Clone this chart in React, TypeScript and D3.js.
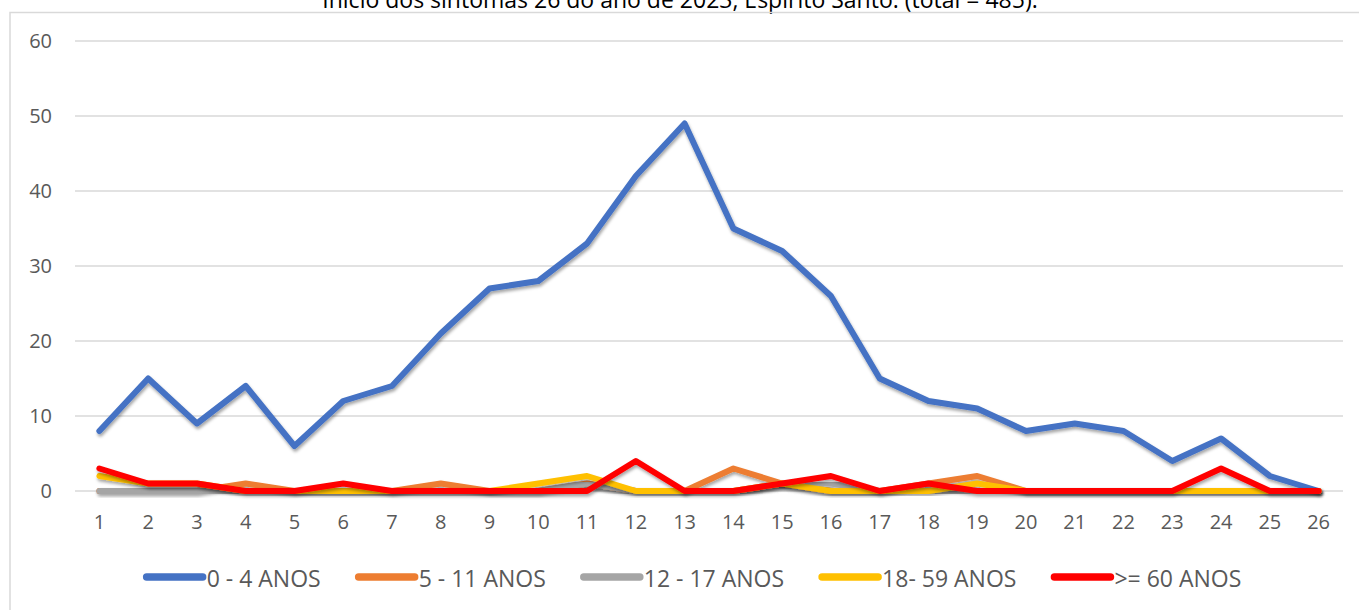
import React, { useEffect, useRef } from "react";
import * as d3 from "d3";

const weeks = ["1","2","3","4","5","6","7","8","9","10","11","12","13","14","15","16","17","18","19","20","21","22","23","24","25","26"];
const yTicks = [0, 10, 20, 30, 40, 50, 60];

const age0to4 = [8,15,9,14,6,12,14,21,27,28,33,42,49,35,32,26,15,12,11,8,9,8,4,7,2,0];
const age5to11 = [0,0,0,1,0,0,0,1,0,0,1,0,0,3,1,0,0,1,2,0,0,0,0,0,0,0];
const age12to17 = [0,0,0,0,0,0,0,0,0,0,1,0,0,0,1,1,0,0,0,0,0,0,0,0,0,0];
const age18to59 = [2,1,1,0,0,0,0,0,0,1,2,0,0,0,1,0,0,0,1,0,0,0,0,0,0,0];
const age60plus = [3,1,1,0,0,1,0,0,0,0,0,4,0,0,1,2,0,1,0,0,0,0,0,3,0,0];

const seriesNames = ["0 - 4 ANOS", "5 - 11 ANOS", "12 - 17 ANOS", "18- 59 ANOS", ">= 60 ANOS"];
const seriesColors = ["#4472C4", "#ED7D31", "#A5A5A5", "#FFC000", "#FF0000"];
const seriesValues = [age0to4, age5to11, age12to17, age18to59, age60plus];

const title = "Início dos sintomas 26 do ano de 2023, Espírito Santo. (total = 485).";

const W = 1359;
const H = 610;
const FONT = "'Open Sans', 'Liberation Sans', sans-serif";

export default function App() {
  const ref = useRef<SVGSVGElement>(null);

  useEffect(() => {
    const svg = d3.select(ref.current);
    svg.selectAll("*").remove();

    const defs = svg.append("defs");
    const f = defs.append("filter").attr("id", "shadow").attr("x", "-5%").attr("y", "-20%").attr("width", "110%").attr("height", "150%");
    f.append("feDropShadow").attr("dx", 1).attr("dy", 2.5).attr("stdDeviation", 1.8).attr("flood-color", "#000").attr("flood-opacity", 0.35);

    svg.append("rect").attr("x", 0).attr("y", 0).attr("width", W).attr("height", H).attr("fill", "#fff");

    // title (cut off at top, as in the source)
    svg.append("text").attr("x", 680).attr("y", 8).attr("text-anchor", "middle")
      .attr("font-family", FONT).attr("font-size", 23).attr("fill", "#000").text(title);

    // frame
    svg.append("rect").attr("x", 10).attr("y", 12.5).attr("width", W + 20).attr("height", H + 20)
      .attr("fill", "none").attr("stroke", "#d9d9d9").attr("stroke-width", 1.5);

    const x = d3.scaleBand<string>().domain(weeks).range([75, 1343]);
    const y = d3.scaleLinear().domain([0, 60]).range([491, 41]);
    const cx = (w: string) => (x(w) as number) + x.bandwidth() / 2;

    // grid
    svg.append("g").selectAll("line").data(yTicks).join("line")
      .attr("x1", 75).attr("x2", 1343).attr("y1", d => y(d)).attr("y2", d => y(d))
      .attr("stroke", "#d9d9d9").attr("stroke-width", 1.5);

    // y labels
    svg.append("g").selectAll("text").data(yTicks).join("text")
      .attr("x", 52).attr("y", d => y(d) + 7).attr("text-anchor", "end")
      .attr("font-family", FONT).attr("font-size", 20).attr("fill", "#595959").text(d => String(d));

    // x labels
    svg.append("g").selectAll("text").data(weeks).join("text")
      .attr("x", d => cx(d)).attr("y", 529).attr("text-anchor", "middle")
      .attr("font-family", FONT).attr("font-size", 20).attr("fill", "#595959").text(d => d);

    // lines
    const line = d3.line<number>().x((_, i) => cx(weeks[i])).y(d => y(d)).curve(d3.curveLinear);
    const lg = svg.append("g");
    seriesValues.forEach((vals, k) => {
      lg.append("path").attr("d", line(vals) as string).attr("fill", "none")
        .attr("stroke", seriesColors[k]).attr("stroke-width", 6)
        .attr("stroke-linejoin", "round").attr("stroke-linecap", "round")
        .attr("filter", "url(#shadow)");
    });

    // legend
    const leg = svg.append("g");
    const lineLen = 56;
    const items: { g: any; w: number }[] = [];
    seriesNames.forEach((name, k) => {
      const g = leg.append("g");
      g.append("line").attr("x1", 0).attr("x2", lineLen).attr("y1", 577).attr("y2", 577)
        .attr("stroke", seriesColors[k]).attr("stroke-width", 7.5).attr("stroke-linecap", "round");
      const t = g.append("text").attr("x", lineLen + 4).attr("y", 587)
        .attr("font-family", FONT).attr("font-size", 23).attr("fill", "#595959").text(name);
      const tw = (t.node() as SVGTextElement).getComputedTextLength();
      items.push({ g, w: lineLen + 4 + tw });
    });
    const gap = 38;
    const total = items.reduce((s, it) => s + it.w, 0) + gap * (items.length - 1);
    let pos = 694 - total / 2;
    items.forEach(it => {
      it.g.attr("transform", `translate(${pos},0)`);
      pos += it.w + gap;
    });
  }, []);

  return (
    <svg ref={ref} width={W} height={H}
      style={{ position: "absolute", left: 0, top: 0, display: "block" }} />
  );
}
